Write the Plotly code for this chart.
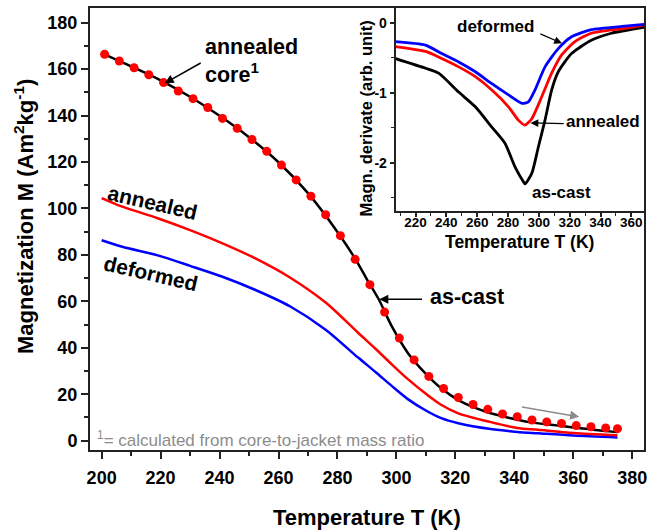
import plotly.graph_objects as go

# ---------------- main panel data ----------------
T_dots = [201, 206, 211, 216, 221, 226, 231, 236, 241, 246, 251, 256, 261, 266, 271, 276, 281, 286,
          291, 296, 301, 306, 311, 316, 321, 326, 331, 336, 341, 346, 351, 356, 361, 366, 371, 375]
M_dots = [166.4, 163.5, 160.6, 157.6, 154.2, 150.6, 147.3, 143.5, 138.8, 134.5, 129.7, 124.6, 118.7,
          112.3, 105.3, 97.3, 88.3, 78.1, 67.2, 55.4, 44.2, 34.8, 27.7, 22.5, 18.6, 15.6, 13.5, 11.5,
          10.3, 8.9, 8.1, 7.4, 6.5, 6.0, 5.5, 5.2]

T_cast = [200, 210, 220, 230, 240, 250, 260, 270, 280, 286, 290, 294, 298.5, 304, 310, 315, 321, 327,
          332, 338, 345, 350, 355, 360, 365, 370, 375]
M_cast = [166.9, 161.2, 155.2, 148.1, 139.9, 130.7, 119.9, 106.6, 89.9, 78.4, 69.5, 60.9, 49.1, 37.6,
          28.8, 22.8, 17.5, 14.0, 11.8, 9.9, 8.0, 7.2, 6.5, 5.7, 5.0, 4.3, 3.7]

T_ann = [200, 207, 219, 230, 241, 252, 264, 276, 287, 293, 298.5, 304, 310, 315, 321, 332, 341, 348,
         360, 375]
M_ann = [104.5, 100.8, 95.8, 90.7, 85.0, 78.6, 70.2, 59.5, 46.5, 39.5, 32.8, 26.4, 20.2, 15.6, 11.8,
         8.0, 5.5, 4.7, 3.3, 2.3]

T_def = [200, 207, 219, 230, 241, 252, 264, 276, 287, 293, 298.5, 304, 310, 315, 321, 332, 341, 348,
         360, 375]
M_def = [86.3, 83.5, 79.8, 75.3, 70.6, 65.0, 57.8, 47.8, 35.8, 29.5, 23.5, 17.8, 13.0, 9.8, 7.5, 5.0,
         3.8, 3.2, 2.2, 1.4]

# ---------------- inset data ----------------
Ti_cast = [206.6, 226.5, 235, 248, 258.8, 269.5, 278, 284.6, 290, 291, 295.4, 299.7, 304, 308.3, 312.6,
           321.2, 334, 347, 369.5]
Di_cast = [-0.51, -0.65, -0.72, -0.99, -1.20, -1.49, -1.72, -2.06, -2.27, -2.30, -2.15, -1.77, -1.39,
           -0.96, -0.70, -0.44, -0.25, -0.15, -0.06]

Ti_def = [206.6, 226.5, 237, 248, 258.8, 269.5, 280.3, 289, 293.2, 297.5, 304, 312.6, 321.2, 334, 355.7,
          369.5]
Di_def = [-0.27, -0.32, -0.44, -0.56, -0.70, -0.87, -1.03, -1.15, -1.13, -0.96, -0.63, -0.37, -0.20,
          -0.10, -0.05, -0.02]

Ti_ann = [206.6, 226.5, 237, 248, 258.8, 269.5, 280.3, 286.7, 291, 295.4, 301.8, 308.3, 314.8, 323.4,
          334, 355.7, 369.5]
Di_ann = [-0.34, -0.41, -0.51, -0.63, -0.77, -0.96, -1.20, -1.39, -1.46, -1.37, -1.06, -0.72, -0.46,
          -0.27, -0.15, -0.08, -0.03]

main_xticks = [200, 220, 240, 260, 280, 300, 320, 340, 360, 380]
main_yticks = [0, 20, 40, 60, 80, 100, 120, 140, 160, 180]
inset_xticks = [220, 240, 260, 280, 300, 320, 340, 360]
inset_yticks = [0, -1, -2]
inset_yticktext = ["0", "-1", "-2"]

FONT = "Liberation Sans, Arial, sans-serif"
RED = "#ff0000"
BLUE = "#0000ff"
BLACK = "#000000"

fig = go.Figure()

# main curves
fig.add_trace(go.Scatter(x=T_def, y=M_def, mode="lines",
                         line=dict(color=BLUE, width=2.5, shape="spline", smoothing=0.8)))
fig.add_trace(go.Scatter(x=T_ann, y=M_ann, mode="lines",
                         line=dict(color=RED, width=2.5, shape="spline", smoothing=0.8)))
fig.add_trace(go.Scatter(x=T_cast, y=M_cast, mode="lines",
                         line=dict(color=BLACK, width=2.5, shape="spline", smoothing=0.8)))
fig.add_trace(go.Scatter(x=T_dots, y=M_dots, mode="markers",
                         marker=dict(color=RED, size=9, line=dict(width=0))))

# inset curves
fig.add_trace(go.Scatter(x=Ti_cast, y=Di_cast, mode="lines", xaxis="x2", yaxis="y2",
                         line=dict(color=BLACK, width=2.8, shape="spline", smoothing=0.6)))
fig.add_trace(go.Scatter(x=Ti_ann, y=Di_ann, mode="lines", xaxis="x2", yaxis="y2",
                         line=dict(color=RED, width=2.8, shape="spline", smoothing=0.6)))
fig.add_trace(go.Scatter(x=Ti_def, y=Di_def, mode="lines", xaxis="x2", yaxis="y2",
                         line=dict(color=BLUE, width=2.8, shape="spline", smoothing=0.6)))

axis_common = dict(showgrid=False, zeroline=False, showline=True, linecolor="#222", linewidth=2,
                   mirror=True, ticks="outside", tickcolor="#222", tickwidth=2)

fig.update_layout(
    width=653, height=532,
    margin=dict(l=90, r=6, t=8, b=82),
    plot_bgcolor="white", paper_bgcolor="white",
    showlegend=False,
    font=dict(family=FONT, color="black"),
    xaxis=dict(**axis_common, range=[196.05, 384.0], tickvals=main_xticks, ticklen=7,
               ticklabelstandoff=3,
               tickfont=dict(family=FONT, size=18, weight="bold"),
               minor=dict(ticks="outside", dtick=10, ticklen=4, tickwidth=1.5, tickcolor="#222")),
    yaxis=dict(**axis_common, range=[-4.0, 186.33], tickvals=main_yticks, ticklen=7,
               tickfont=dict(family=FONT, size=18, weight="bold"),
               minor=dict(ticks="outside", dtick=10, ticklen=4, tickwidth=1.5, tickcolor="#222")),
    xaxis2=dict(**axis_common, domain=[0.5517, 1.0], anchor="y2", range=[207.1, 368.2],
                tickvals=inset_xticks, ticklen=4, ticklabelstandoff=-6,
                tickfont=dict(family=FONT, size=13.5, weight="bold"),
                minor=dict(ticks="outside", dtick=10, ticklen=3, tickwidth=1.2, tickcolor="#222")),
    yaxis2=dict(**axis_common, domain=[0.5407, 1.0], anchor="x2", range=[-2.687, 0.21],
                tickvals=inset_yticks, ticktext=inset_yticktext, ticklen=4,
                tickfont=dict(family=FONT, size=14, weight="bold"),
                minor=dict(ticks="outside", dtick=0.5, ticklen=3, tickwidth=1.2, tickcolor="#222")),
)

def txt(x, y, text, size, xref="x", yref="y", color="black", weight="bold", angle=0,
        xanchor="center", yanchor="middle", align="center"):
    fig.add_annotation(x=x, y=y, xref=xref, yref=yref, text=text, showarrow=False,
                       textangle=angle, xanchor=xanchor, yanchor=yanchor, align=align,
                       font=dict(family=FONT, size=size, color=color, weight=weight))

def arrow(x, y, ax, ay, xref="x", yref="y", color="black", width=1.5, size=1.2):
    fig.add_annotation(x=x, y=y, ax=ax, ay=ay, xref=xref, yref=yref, axref=xref, ayref=yref,
                       text="", showarrow=True, arrowhead=2, arrowsize=size, arrowwidth=width,
                       arrowcolor=color)

# axis titles (main)
txt(0.5, -0.1516, "Temperature T (K)", 22, xref="paper", yref="paper")
txt(-0.1203, 0.528, "Magnetization M (Am<sup>2</sup>kg<sup>-1</sup>)", 22, xref="paper", yref="paper",
    angle=-90)
# axis titles (inset)
txt(0.775, 0.4695, "Temperature T (K)", 17.5, xref="paper", yref="paper")
txt(0.499, 0.751, "Magn. derivate (arb. unit)", 16.5, xref="paper", yref="paper", angle=-90)

# main annotations
txt(234.5, 163.7, "annealed<br>core<sup>1</sup>", 21.5, xanchor="left", align="left")
arrow(221.4, 153.9, 234.1, 163.0)
txt(310.8, 61.9, "as-cast", 21.5, xanchor="left")
arrow(294.2, 60.9, 309.2, 60.9)
txt(217.3, 102.4, "annealed", 21, angle=13)
txt(216.9, 72.1, "deformed", 21, angle=13)
arrow(362.0, 10.3, 342.1, 14.6, color="#8c8c8c", width=1.5)
txt(197.7, 0.6, "<sup>1</sup>= calculated from core-to-jacket mass ratio", 17, xanchor="left",
    color="#8c8c8c", weight="normal")

# inset annotations
txt(271.9, -0.06, "deformed", 17, xref="x2", yref="y2")
arrow(315.0, -0.294, 300.0, -0.151, xref="x2", yref="y2", width=1.3)
txt(341.4, -1.413, "annealed", 17, xref="x2", yref="y2")
arrow(294.6, -1.43, 317.1, -1.44, xref="x2", yref="y2", width=1.3)
txt(314.4, -2.42, "as-cast", 17, xref="x2", yref="y2")

fig.write_html("out.html")
